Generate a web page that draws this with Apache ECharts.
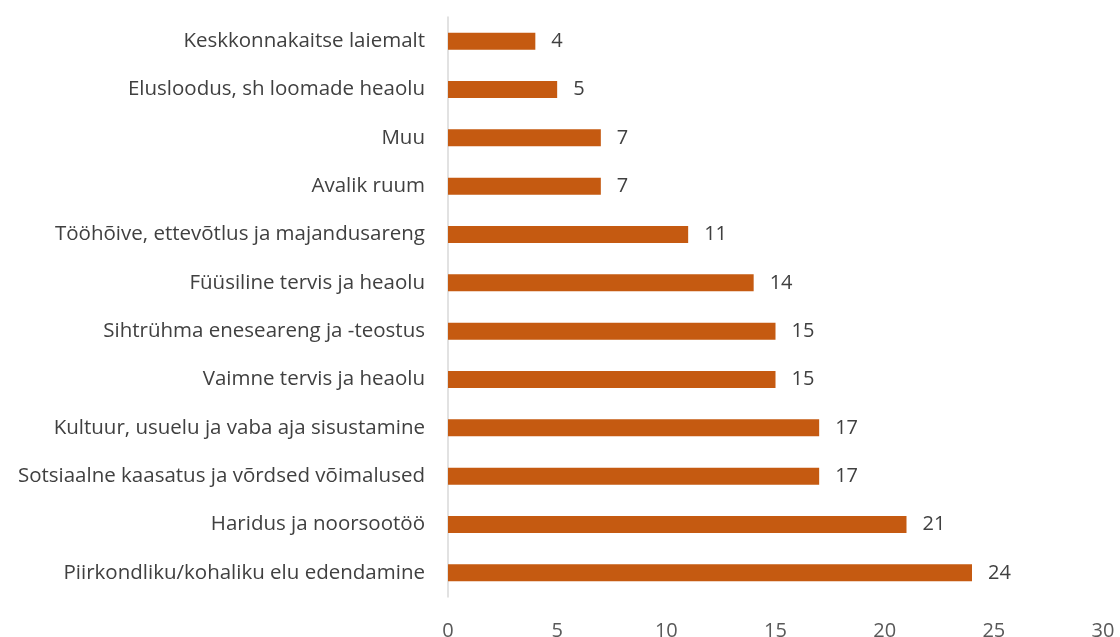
<!DOCTYPE html>
<html><head><meta charset="utf-8">
<script src="https://cdn.jsdelivr.net/npm/echarts@6/dist/echarts.min.js"></script>
<style>html,body{margin:0;padding:0;background:#fff}#c{width:1120px;height:637px}</style>
</head><body><div id="c"></div>
<script>
const categories = [
  "Piirkondliku/kohaliku elu edendamine",
  "Haridus ja noorsootöö",
  "Sotsiaalne kaasatus ja võrdsed võimalused",
  "Kultuur, usuelu ja vaba aja sisustamine",
  "Vaimne tervis ja heaolu",
  "Sihtrühma eneseareng ja -teostus",
  "Füüsiline tervis ja heaolu",
  "Tööhõive, ettevõtlus ja majandusareng",
  "Avalik ruum",
  "Muu",
  "Elusloodus, sh loomade heaolu",
  "Keskkonnakaitse laiemalt"
];
const values = [24, 21, 17, 17, 15, 15, 14, 11, 7, 7, 5, 4];
const xTicks = [0, 5, 10, 15, 20, 25, 30];

const font = "Open Sans";
const chart = echarts.init(document.getElementById('c'), null, {renderer: 'canvas'});
chart.setOption({
  animation: false,
  grid: {left: 448, right: 17, top: 17, bottom: 40, containLabel: false, outerBoundsMode: 'none'},
  xAxis: {
    type: 'value', min: xTicks[0], max: xTicks[xTicks.length - 1], interval: 5,
    axisLine: {show: false}, axisTick: {show: false}, splitLine: {show: false},
    axisLabel: {color: '#595959', fontFamily: font, fontSize: 20, margin: 24}
  },
  yAxis: {
    type: 'category', data: categories,
    axisLine: {show: true, lineStyle: {color: '#d9d9d9', width: 1.5}},
    axisTick: {show: false},
    axisLabel: {color: '#404040', fontFamily: font, fontSize: 20.5, margin: 23}
  },
  series: [{
    type: 'bar', data: values, barWidth: 17,
    itemStyle: {color: '#C55A11'},
    label: {show: true, position: 'right', distance: 16, color: '#404040', fontFamily: font, fontSize: 20}
  }]
});
</script></body></html>
